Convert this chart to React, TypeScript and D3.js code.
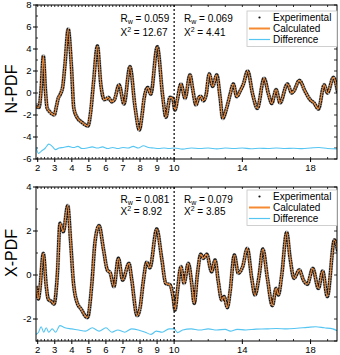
import React from "react";
import * as d3 from "d3";

// N-PDF experimental curve (r in Å, G(r))
const nR = [1.9, 2.08, 2.2, 2.33, 2.45, 2.55, 2.7, 2.85, 2.97, 3.1, 3.2, 3.33, 3.47, 3.6, 3.79, 3.97, 4.12, 4.3, 4.58, 4.8, 4.95, 5.1, 5.27, 5.5, 5.7, 5.9, 6.02, 6.14, 6.34, 6.5, 6.77, 7.06, 7.41, 7.71, 7.96, 8.12, 8.23, 8.45, 8.63, 9.01, 9.33, 9.52, 9.76, 9.92, 10.05, 10.19, 10.4, 10.64, 10.93, 11.09, 11.28, 11.45, 11.56, 11.71, 11.87, 12.06, 12.26, 12.5, 12.69, 12.85, 13.08, 13.28, 13.47, 13.67, 13.86, 14.06, 14.31, 14.61, 14.88, 15.27, 15.55, 15.72, 15.98, 16.21, 16.64, 16.9, 17.03, 17.34, 17.68, 17.97, 18.2, 18.46, 18.8, 18.99, 19.34, 19.6];
const nExp = [-1.25, -1.3, 0.3, 3.36, 0.3, -1.35, -1.7, -1.9, -2.0, -1.2, -0.5, -0.1, 0.6, 2.6, 5.8, 2.6, -1.4, -2.2, -2.65, -2.9, -3.0, -1.8, 0.9, 4.27, 0.8, -0.6, -0.55, -0.4, -0.8, -0.6, 0.75, -1.0, 2.4, -1.3, -3.36, -2.0, -0.6, 0.5, -0.1, 4.2, -0.3, -2.2, -0.4, -0.5, -1.55, -0.6, 0.82, -0.48, 1.64, 0.33, -1.09, -0.4, -0.3, -0.7, -0.2, 1.73, 0.6, 1.64, -0.33, -2.3, -1.36, -0.15, 0.82, -0.33, 0.15, 0.8, 2.0, -0.15, -1.4, 1.33, -0.2, -0.95, 0.3, -0.9, 0.82, 0.0, 0.2, 1.15, 0.15, -0.6, -0.9, -1.45, 0.73, 0.0, 1.42, 0.0];
const nDiffR = [1.9, 2.05, 2.2, 2.45, 2.65, 2.85, 3.05, 3.25, 3.5, 3.8, 4.1, 4.35, 4.6, 4.9, 5.2, 5.5, 5.8, 6.1, 6.4, 6.7, 7.0, 7.3, 7.6, 7.9, 8.2, 8.5, 8.8, 9.1, 9.4, 9.7, 10.0, 10.5, 11, 11.5, 12, 12.5, 13, 13.5, 14, 14.5, 15, 15.5, 16, 16.5, 17, 17.5, 18, 18.5, 19, 19.6];
const nDiff = [-4.9, -5.5, -5.3, -5.0, -4.65, -4.85, -5.15, -5.0, -4.95, -4.85, -4.95, -4.85, -5.05, -5.0, -4.9, -5.0, -4.9, -5.05, -4.95, -5.05, -4.95, -5.0, -4.85, -5.0, -4.8, -4.95, -5.0, -5.05, -5.0, -5.05, -5.0, -5.1, -5.0, -5.05, -5.0, -5.08, -5.0, -5.05, -5.0, -5.07, -5.02, -5.05, -5.0, -5.05, -5.02, -5.06, -5.0, -4.95, -5.05, -5.08];

// X-PDF experimental curve
const xR = [1.9, 2.04, 2.12, 2.33, 2.5, 2.62, 2.82, 2.96, 3.15, 3.31, 3.5, 3.76, 3.93, 4.09, 4.29, 4.58, 4.83, 4.92, 5.17, 5.36, 5.6, 5.85, 6.08, 6.25, 6.47, 6.73, 6.98, 7.35, 7.5, 7.83, 8.0, 8.19, 8.39, 8.58, 8.98, 9.27, 9.51, 9.76, 9.95, 10.05, 10.19, 10.4, 10.58, 10.83, 11.03, 11.18, 11.36, 11.56, 11.71, 11.91, 12.2, 12.4, 12.59, 12.79, 12.93, 13.12, 13.28, 13.53, 13.76, 14.02, 14.29, 14.55, 14.74, 14.99, 15.2, 15.47, 15.76, 15.98, 16.11, 16.31, 16.6, 16.8, 17.03, 17.34, 17.58, 17.81, 18.13, 18.46, 18.71, 18.98, 19.4, 19.6];
const xExp = [-0.5, -1.09, -0.7, 0.98, -0.5, -1.1, -1.21, -1.32, 0.0, 2.35, 1.97, 3.15, 1.52, -0.3, -1.21, -1.59, -1.9, -1.93, -0.45, 1.5, 2.24, 1.2, 0.23, 0.1, -0.53, 0.76, -0.23, 0.53, -0.14, -1.85, -1.5, -0.3, 0.58, 0.33, 2.09, 0.76, -0.38, -0.45, -1.06, -1.59, -0.76, 0.38, -0.38, 0.53, -0.38, -1.29, 0.0, 0.94, 0.76, 0.94, 0.15, 0.68, -0.3, -1.14, -0.98, -1.48, -0.76, 0.91, 0.08, 0.38, 1.21, -0.15, -0.91, 0.0, 1.18, -0.15, -1.39, -0.61, -0.91, 0.0, 1.94, 0.76, -0.15, 0.23, -0.23, -0.42, 0.3, -0.61, 0.18, -0.98, 1.59, 1.06];
const xDiffR = [1.9, 2.05, 2.2, 2.35, 2.5, 2.65, 2.85, 3.05, 3.3, 3.6, 4.0, 4.4, 4.8, 5.2, 5.6, 6.0, 6.35, 6.7, 7.1, 7.5, 7.9, 8.3, 8.65, 8.95, 9.3, 9.7, 10.0, 10.2, 10.5, 11, 11.5, 12, 12.5, 13, 13.3, 13.7, 14.2, 14.8, 15.4, 16, 16.6, 17.2, 17.8, 18.3, 18.8, 19.3, 19.6];
const xDiff = [-2.7, -2.6, -2.35, -2.6, -2.4, -2.6, -2.45, -2.6, -2.3, -2.4, -2.45, -2.5, -2.55, -2.4, -2.55, -2.4, -2.6, -2.5, -2.6, -2.45, -2.5, -2.6, -2.7, -2.55, -2.6, -2.45, -2.45, -2.62, -2.5, -2.45, -2.5, -2.45, -2.5, -2.47, -2.55, -2.47, -2.5, -2.46, -2.45, -2.43, -2.45, -2.42, -2.38, -2.35, -2.4, -2.45, -2.55];

const xLabelsLeft = [2, 3, 4, 5, 6, 7, 8, 9];
const xLabelsRight = [10, 14, 18];
const nYTicks = [-6, -4, -2, 0, 2, 4, 6, 8];
const xYTicks = [-2, 0, 2, 4];
const nStats = [["0.059", "12.67"], ["0.069", "4.41"]];
const xStats = [["0.081", "8.92"], ["0.079", "3.85"]];
const legendLabels = ["Experimental", "Calculated", "Difference"];

const FONT = "'Liberation Sans', Arial, sans-serif";
const ORANGE = "#f58a32";
const BLUE = "#55c5f2";
const L = 36, R = 337, BREAK = 10;

const x = d3.scaleLinear().domain([1.9, 19.55]).range([L, R]);

type PanelProps = {
  id: string; top: number; bottom: number; domain: [number, number];
  yTicks: number[]; r: number[]; g: number[]; dr: number[]; dg: number[];
  stats: string[][]; label: string; labelY: number; statY: number[]; legTop: number;
};

const Panel = ({ id, top, bottom, domain, yTicks, r, g, dr, dg, stats, label, labelY, statY, legTop }: PanelProps) => {
  const y = d3.scaleLinear().domain(domain).range([bottom, top]);
  const line = d3.line<[number, number]>().x(d => x(d[0])).y(d => y(d[1])).curve(d3.curveMonotoneX);
  const exp = line(d3.zip(r, g) as [number, number][]) || "";
  const diff = line(d3.zip(dr, dg) as [number, number][]) || "";
  const minorLeft = d3.range(2, 10.01, 0.2).map(v => +v.toFixed(1));
  const minorRight = d3.range(11, 20, 1);
  const yMinor = d3.range(Math.ceil(domain[0]), domain[1] + 0.01, 1);

  return (
    <g>
      <defs>
        <clipPath id={id}>
          <rect x={L} y={top} width={R - L} height={bottom - top} />
        </clipPath>
      </defs>
      {/* x ticks, bottom and top */}
      {[...minorLeft, ...minorRight].map((v, i) => (
        <g key={"m" + i} stroke="#000" strokeWidth={0.8}>
          <line x1={x(v)} x2={x(v)} y1={bottom} y2={bottom - 2} />
          <line x1={x(v)} x2={x(v)} y1={top} y2={top + 2} />
        </g>
      ))}
      {[...xLabelsLeft, ...xLabelsRight].map(v => (
        <g key={"x" + v}>
          <line x1={x(v)} x2={x(v)} y1={bottom} y2={bottom + 3} stroke="#000" strokeWidth={1} />
          <text x={x(v)} y={bottom + 11.5} textAnchor="middle" fontSize={9.5} fontFamily={FONT}>{v}</text>
        </g>
      ))}
      {/* y ticks */}
      {yMinor.map(v => (
        <g key={"ym" + v} stroke="#000" strokeWidth={0.8}>
          <line x1={L} x2={L + 2} y1={y(v)} y2={y(v)} />
          <line x1={R} x2={R - 3} y1={y(v)} y2={y(v)} />
        </g>
      ))}
      {yTicks.map(v => (
        <g key={"y" + v}>
          <line x1={L} x2={L - 3} y1={y(v)} y2={y(v)} stroke="#000" />
          <text x={L - 4.5} y={y(v) + 3.4} textAnchor="end" fontSize={9.5} fontFamily={FONT}>{v}</text>
        </g>
      ))}
      {/* curves */}
      <g clipPath={`url(#${id})`}>
        <path d={diff} fill="none" stroke={BLUE} strokeWidth={1.1} />
        <path d={exp} fill="none" stroke="#9a9a9a" strokeWidth={4.2} strokeOpacity={0.6} />
        <path d={exp} fill="none" stroke="#161616" strokeWidth={3.4} strokeDasharray="2 0.5" />
        <path d={exp} fill="none" stroke={ORANGE} strokeWidth={1.2} />
      </g>
      <line x1={x(BREAK)} x2={x(BREAK)} y1={top} y2={bottom} stroke="#000" strokeWidth={1.2} strokeDasharray="2 2" />
      <rect x={L} y={top} width={R - L} height={bottom - top} fill="none" stroke="#000" strokeWidth={1} />
      {/* fit statistics */}
      {stats.map((s, i) => (
        <g key={"s" + i} fontFamily={FONT} fontSize={10}>
          <text x={i === 0 ? 120.5 : 184} y={statY[0]}>
            R<tspan fontSize={7} dy={2}>w</tspan><tspan dy={-2}>{` = ${s[0]}`}</tspan>
          </text>
          <text x={i === 0 ? 120.5 : 184} y={statY[1]}>
            X<tspan fontSize={7} dy={-4}>2</tspan><tspan dy={4}>{` = ${s[1]}`}</tspan>
          </text>
        </g>
      ))}
      {/* legend */}
      <rect x={247} y={legTop} width={R - 247} height={35.5} fill="#fff" stroke="#c4c4c4" strokeWidth={0.8} />
      {legendLabels.map((t, i) => {
        const cy = legTop + 6.5 + i * 11;
        return (
          <g key={t}>
            {i === 0 && <circle cx={259.5} cy={cy} r={1.1} fill="#111" />}
            {i > 0 && <line x1={249} x2={270} y1={cy} y2={cy} stroke={i === 1 ? ORANGE : BLUE} strokeWidth={i === 1 ? 2 : 1.2} />}
            <text x={273} y={cy + 3.6} fontSize={10} fontFamily={FONT}>{t}</text>
          </g>
        );
      })}
      <text transform={`translate(16.5, ${labelY}) rotate(-90)`} textAnchor="middle" fontSize={16} fontFamily={FONT}>{label}</text>
    </g>
  );
};

export default function App() {
  return (
    <svg width={340} height={355} style={{ position: "absolute", left: 0, top: 0, background: "#fff" }}>
      <Panel id="clipN" top={5} bottom={159} domain={[-6, 8]} yTicks={nYTicks} r={nR} g={nExp} dr={nDiffR} dg={nDiff}
        stats={nStats} label="N-PDF" labelY={89} statY={[21.5, 35.5]} legTop={11} />
      <Panel id="clipX" top={187} bottom={341} domain={[-3, 4]} yTicks={xYTicks} r={xR} g={xExp} dr={xDiffR} dg={xDiff}
        stats={xStats} label="X-PDF" labelY={253} statY={[202.5, 214.5]} legTop={190} />
    </svg>
  );
}
